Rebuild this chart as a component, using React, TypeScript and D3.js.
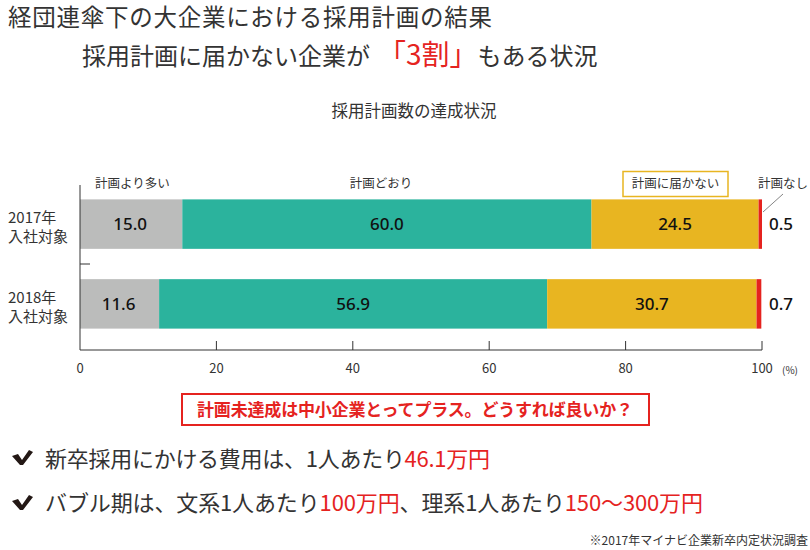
import React from "react";
import * as d3 from "d3";

const categories = ["2017年入社対象", "2018年入社対象"];
const catLines = [["2017年", "入社対象"], ["2018年", "入社対象"]];
const seriesNames = ["計画より多い", "計画どおり", "計画に届かない", "計画なし"];
const moreThanPlan = [15.0, 11.6];
const asPlanned = [60.0, 56.9];
const belowPlan = [24.5, 30.7];
const noPlan = [0.5, 0.7];
const xTicks = [0, 20, 40, 60, 80, 100];
const colors = ["#bbbcbb", "#2bb39d", "#e8b521", "#e5231f"];

const FONT = "'Noto Sans CJK JP', 'Noto Sans', sans-serif";

export default function App() {
  const W = 810, H = 550;
  const x = d3.scaleLinear().domain([0, 100]).range([80, 762]);
  const y = d3.scaleBand().domain(categories).range([193, 335]).paddingInner(0.38).paddingOuter(0.08);
  const seriesData = [moreThanPlan, asPlanned, belowPlan, noPlan];
  const rows = categories.map((c, i) => {
    const obj: any = { cat: c };
    seriesNames.forEach((s, j) => (obj[s] = seriesData[j][i]));
    return obj;
  });
  const stack = d3.stack<any>().keys(seriesNames)(rows);
  const axisY = 350;
  const dark = "#333";

  return (
    <svg width={W} height={H} style={{ display: "block", position: "absolute", left: 0, top: 0, fontFamily: FONT }}>
      <rect width={W} height={H} fill="#fff" />
      {/* Titles */}
      <text x={8} y={26} fontSize={23.5} fill={dark} textLength={484} lengthAdjust="spacing">経団連傘下の大企業における採用計画の結果</text>
      <text x={82} y={65} fontSize={24} fill={dark}>
        採用計画に届かない企業が
        <tspan fill="#e5231f" fontSize={28} dx={8}>「3割」</tspan>
        <tspan>もある状況</tspan>
      </text>
      <text x={414} y={117} fontSize={16.5} fill={dark} textAnchor="middle">採用計画数の達成状況</text>

      {/* Bars */}
      {stack.map((layer, j) =>
        layer.map((d, i) => (
          <rect key={`${j}-${i}`} x={x(d[0])} y={y(categories[i])!} width={x(d[1]) - x(d[0])} height={y.bandwidth()} fill={colors[j]} />
        ))
      )}
      {/* Inside value labels */}
      {stack.slice(0, 3).map((layer, j) =>
        layer.map((d, i) => (
          <text key={`l${j}-${i}`} x={(x(d[0]) + x(d[1])) / 2 + (j === 0 ? -1 : 0)} y={y(categories[i])! + y.bandwidth() / 2 + 6}
            textAnchor="middle" fontSize={17} fill="#111" fontFamily="'Noto Sans', sans-serif" fontWeight={500}>
            {seriesData[j][i].toFixed(1)}
          </text>
        ))
      )}
      {/* Outside "no plan" labels */}
      {noPlan.map((v, i) => (
        <text key={`np${i}`} x={769} y={y(categories[i])! + y.bandwidth() / 2 + 6} fontSize={17} fill="#111" fontFamily="'Noto Sans', sans-serif" fontWeight={500}>
          {v.toFixed(1)}
        </text>
      ))}

      {/* Axes */}
      <line x1={80} x2={80} y1={185} y2={axisY} stroke={dark} strokeWidth={1} />
      <line x1={80} x2={x(100)} y1={axisY} y2={axisY} stroke={dark} strokeWidth={1} />
      <line x1={80} x2={90} y1={264} y2={264} stroke={dark} strokeWidth={1} />
      {xTicks.map((t) => (
        <g key={t}>
          {t > 0 && <line x1={x(t)} x2={x(t)} y1={axisY - 9} y2={axisY} stroke={dark} strokeWidth={1} />}
          <text x={x(t)} y={373} textAnchor="middle" fontSize={13} fill={dark}>{t}</text>
        </g>
      ))}
      <text x={782} y={374} fontSize={10} fill={dark}>(%)</text>

      {/* Category labels */}
      {catLines.map((lines, i) => (
        <g key={`c${i}`}>
          <text x={8} y={y(categories[i])! + 24} fontSize={15} fill={dark}>{lines[0]}</text>
          <text x={8} y={y(categories[i])! + 43} fontSize={15} fill={dark}>{lines[1]}</text>
        </g>
      ))}

      {/* Series labels */}
      <text x={95} y={188} fontSize={12.5} fill={dark}>{seriesNames[0]}</text>
      <text x={381} y={188} fontSize={12.5} fill={dark} textAnchor="middle">{seriesNames[1]}</text>
      <rect x={623} y={171.5} width={105} height={25} fill="#fff" stroke="#e8b521" strokeWidth={1.5} />
      <text x={675.5} y={188} fontSize={12.5} fill={dark} textAnchor="middle">{seriesNames[2]}</text>
      <text x={758} y={188} fontSize={12.5} fill={dark}>{seriesNames[3]}</text>
      <line x1={783} y1={194} x2={763} y2={212} stroke="#666" strokeWidth={0.8} />

      {/* Red note box */}
      <rect x={182} y={394} width={467} height={31} fill="#fff" stroke="#e5231f" strokeWidth={2} />
      <text x={197} y={416} fontSize={17} fontWeight={700} fill="#e5231f" textLength={436} lengthAdjust="spacing">計画未達成は中小企業とってプラス。どうすれば良いか？</text>

      {/* Bullets */}
      {[458, 503].map((cy, i) => (
        <path key={`ck${i}`} d={`M12 ${cy - 2} L18 ${cy - 4} L22 ${cy + 2} L29 ${cy - 8} L33 ${cy - 6} L23 ${cy + 7} L20 ${cy + 7} Z`} fill="#231815" />
      ))}
      <text x={45} y={467} fontSize={22} fill={dark} textLength={445} lengthAdjust="spacing">
        新卒採用にかける費用は、1人あたり<tspan fill="#e5231f">46.1万円</tspan>
      </text>
      <text x={45} y={511} fontSize={22} fill={dark} textLength={658} lengthAdjust="spacing">
        バブル期は、文系1人あたり<tspan fill="#e5231f">100万円</tspan>、理系1人あたり<tspan fill="#e5231f">150～300万円</tspan>
      </text>

      <text x={808} y={545} textAnchor="end" fontSize={12} fill={dark}>※2017年マイナビ企業新卒内定状況調査</text>
    </svg>
  );
}
